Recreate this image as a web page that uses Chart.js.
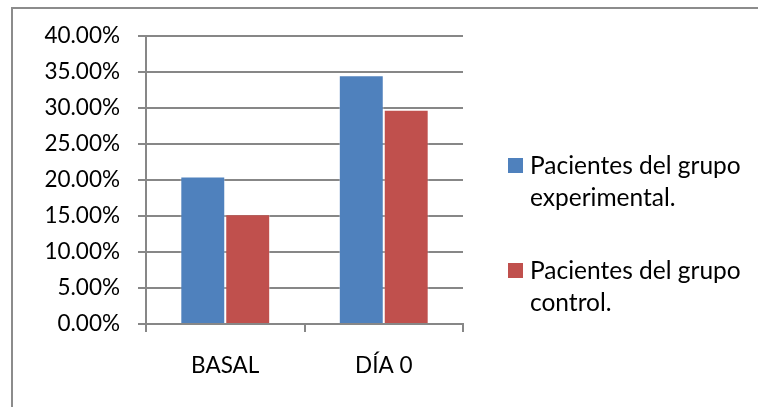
<!DOCTYPE html>
<html>
<head>
<meta charset="utf-8">
<script src="https://cdn.jsdelivr.net/npm/chart.js@4/dist/chart.umd.min.js"></script>
<style>
  html, body { margin: 0; padding: 0; background: #ffffff; }
  #wrap { width: 758px; height: 407px; position: relative; }
</style>
</head>
<body>
<div id="wrap"><canvas id="c" width="758" height="407"></canvas></div>
<script>
// Categories and series (percent of patients)
const categories = ["BASAL", "DÍA 0"];
const experimental = [20.5, 34.55];
const control = [15.25, 29.75];
const legendLines = [
  ["Pacientes del grupo", "experimental."],
  ["Pacientes del grupo", "control."]
];
const yTicks = [0, 5, 10, 15, 20, 25, 30, 35, 40];

const FONT = "Lato, 'Open Sans', 'DejaVu Sans', sans-serif";
const AXIS_GREY = "#878787";
const colors = ["#4F81BD", "#C0504D"];

// Outer frame (left and top edges of the chart box)
const framePlugin = {
  id: "frame",
  beforeDraw(chart) {
    const ctx = chart.ctx;
    ctx.save();
    ctx.fillStyle = "#ffffff";
    ctx.fillRect(0, 0, chart.width, chart.height);
    ctx.strokeStyle = "#8c8c8c";
    ctx.lineWidth = 2;
    ctx.beginPath();
    ctx.moveTo(12, chart.height);
    ctx.lineTo(12, 8);
    ctx.lineTo(chart.width, 8);
    ctx.stroke();
    ctx.restore();
  }
};

// Legend on the right with two-line labels
const sideLegend = {
  id: "sideLegend",
  afterDraw(chart) {
    const ctx = chart.ctx;
    ctx.save();
    ctx.font = "24.5px " + FONT;
    ctx.textBaseline = "middle";
    ctx.textAlign = "left";
    const boxX = 508, textX = 530, box = 15;
    const starts = [166, 271];
    chart.data.datasets.forEach((ds, i) => {
      const cy = starts[i];
      ctx.fillStyle = ds.backgroundColor;
      ctx.fillRect(boxX, cy - 8, box, box);
      ctx.fillStyle = "#000000";
      legendLines[i].forEach((line, j) => {
        ctx.fillText(line, textX, cy + j * 32);
      });
    });
    ctx.restore();
  }
};

new Chart(document.getElementById("c"), {
  type: "bar",
  data: {
    labels: categories,
    datasets: [
      {
        label: legendLines[0].join(" "),
        data: experimental,
        backgroundColor: colors[0],
        borderColor: "rgba(255,255,255,0.35)",
        borderWidth: 1
      },
      {
        label: legendLines[1].join(" "),
        data: control,
        backgroundColor: colors[1],
        borderColor: "rgba(255,255,255,0.35)",
        borderWidth: 1
      }
    ]
  },
  options: {
    responsive: false,
    animation: false,
    devicePixelRatio: 1,
    layout: { padding: { left: 0, top: 36, right: 295, bottom: 0 } },
    datasets: { bar: { categoryPercentage: 0.567, barPercentage: 1.0 } },
    plugins: {
      legend: { display: false },
      tooltip: { enabled: false }
    },
    scales: {
      x: {
        afterFit(scale) { scale.height = 83; },
        grid: {
          offset: true,
          drawOnChartArea: false,
          drawTicks: true,
          tickLength: 8,
          color: AXIS_GREY,
          lineWidth: 2
        },
        border: { color: AXIS_GREY, width: 2 },
        ticks: {
          color: "#000000",
          font: { family: FONT, size: 22.5 },
          padding: 20
        }
      },
      y: {
        min: 0,
        max: 40,
        afterFit(scale) { scale.width = 146; },
        afterBuildTicks(scale) { scale.ticks = yTicks.map(v => ({ value: v })); },
        grid: {
          drawTicks: true,
          tickLength: 8,
          color: AXIS_GREY,
          lineWidth: 2
        },
        border: { color: AXIS_GREY, width: 2 },
        ticks: {
          color: "#000000",
          font: { family: FONT, size: 22.5 },
          padding: 18,
          callback: v => Number(v).toFixed(2) + "%"
        }
      }
    }
  },
  plugins: [framePlugin, sideLegend]
});
</script>
</body>
</html>
